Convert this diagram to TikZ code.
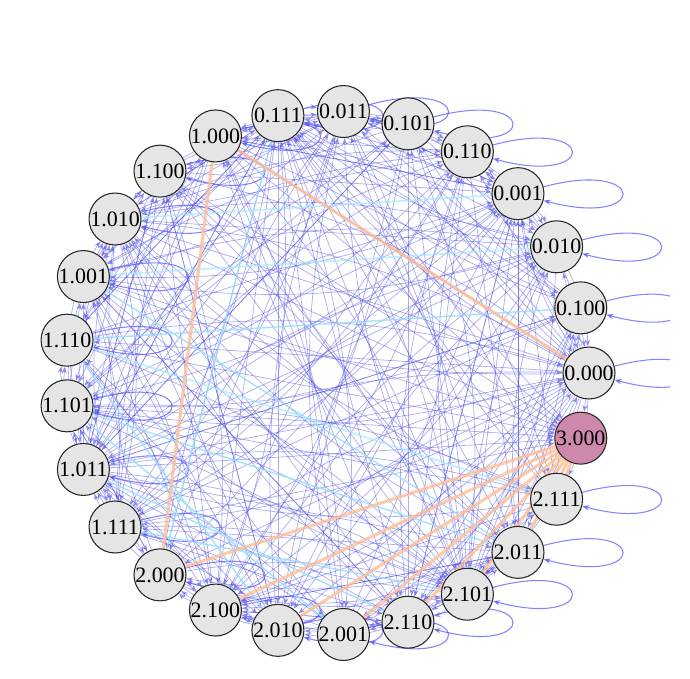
\documentclass[tikz,border=0pt]{standalone}
\usepackage{fontspec}
\setmainfont{Liberation Serif}
\usetikzlibrary{arrows.meta,backgrounds}
\definecolor{edgeblue}{RGB}{70,70,225}
\definecolor{loopblue}{RGB}{90,90,255}
\definecolor{skyedge}{RGB}{165,232,255}
\definecolor{peach}{RGB}{255,190,150}
\definecolor{absorb}{RGB}{205,137,172}

\begin{document}
\begin{tikzpicture}[
        state/.style={circle, draw=black!85, fill=black!10, line width=0.6pt, minimum size=1.04cm, inner sep=0pt, font=\fontsize{12.5}{13}\selectfont},
        final/.style={state, fill=absorb},
        trans/.style={draw=edgeblue, opacity=0.45, line width=0.4pt, -{Stealth[length=4pt,width=3pt]}},
        selfloop/.style={draw=loopblue, opacity=0.75, line width=0.6pt, -{Stealth[length=4pt,width=3pt]}, out=15, in=-15, min distance=2.18cm},
        lift/.style={draw=skyedge, opacity=0.75, line width=0.9pt},
        hot/.style={draw=peach, opacity=0.8, line width=1.8pt}]

    \useasboundingbox (-6.54,-6.10) rectangle (7.26,7.46);

    % states on the ring
    \foreach \lab [count=\i from 0] in {0.000,0.100,0.010,0.001,0.110,0.101,0.011,0.111,1.000,1.100,1.010,1.001,1.110,1.101,1.011,1.111,2.000,2.100,2.010,2.001,2.110,2.101,2.011,2.111}
        \node[state] (s\i) at ({14.4*\i}:5.24) {\lab};
    \node[final] (s24) at (-14.4:5.24) {3.000};

    \begin{scope}[on background layer]
        \clip (-6.54,-6.10) rectangle (6.86,7.46);
        % transitions
        \foreach \i in {0,...,23}
            \foreach \k in {1,...,24} {
                \pgfmathtruncatemacro\j{mod(\i+\k,25)}
                \pgfmathtruncatemacro\h{mod(3*\i*\i+7*\k+\i*\k,7)}
                \pgfmathtruncatemacro\bnd{12*mod(\i+\k,2)}
                \ifnum\j<24 \ifnum\h<3
                    \draw[trans] (s\i) to[bend left=\bnd] (s\j);
                \fi\fi
            }
        \foreach \i in {0,...,23}
            \draw[selfloop] (s\i) to (s\i);
        \foreach \i in {0,7,8,9,10,11,12,13,14,15}
            \draw[trans] (s\i) -- (s24);
        % light and heavy transitions
        \foreach \src/\dst in {2/11,1/12,3/10,23/12,22/13,7/16,12/18,13/19,14/20,15/21,11/22}
            \draw[lift] (s\src) -- (s\dst);
        \foreach \i in {16,...,23}
            \draw[hot] (s24) -- (s\i);
        \draw[hot] (s8) -- (s0);
        \draw[hot] (s8) -- (s16);
    \end{scope}

\end{tikzpicture}
\end{document}
